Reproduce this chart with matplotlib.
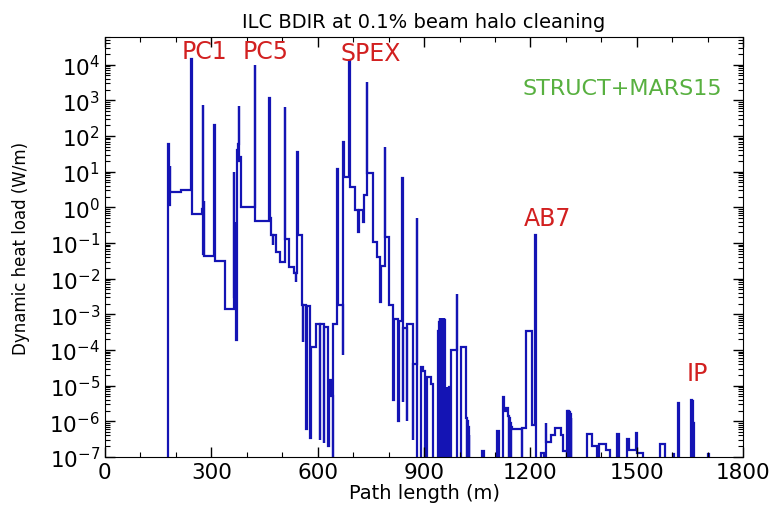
import matplotlib
matplotlib.use("Agg")
import matplotlib.pyplot as plt
from matplotlib.ticker import FixedLocator, LogLocator, MultipleLocator, NullFormatter

# Heat load per bin along the beamline: (left edge in m, load in W/m). 0 = empty bin.
bin_left = [
    0, 178, 179.5, 180.5, 181.5, 182.5, 184, 215, 244, 245.5, 246.5,
    274, 275.5, 277, 278, 279, 280, 308, 309.5, 310.5, 340,
    363, 364.5, 366.5, 369, 371, 372.5, 374, 376, 378, 379.5, 381, 382.5, 384,
    423, 424.5, 464, 465.5, 466.5, 467.5, 473, 474.5, 482, 494,
    507, 508.5, 520, 533, 538, 540, 543, 544.5,
    556, 559, 560, 568.5, 569.5, 579.5, 580.5, 594.5, 606, 607, 617.5, 618.5,
    630, 631, 636.5, 642, 644, 655, 656.5, 657.5, 671, 672, 673.5, 675,
    689, 690.5, 705, 714, 715.5, 728, 729.5, 738, 739.5, 755, 766.5,
    777, 778.5, 789, 790.5, 802, 813, 814, 827, 828, 838.5, 840, 841,
    852, 853, 869, 870, 879, 880.5, 890, 896, 902, 907, 919, 926,
    940, 941.25, 942.5, 943.75, 945, 946.25, 947.5, 948.75, 950, 951.25,
    952.5, 953.75, 955, 956.25, 957.5, 958.75,
    960, 964, 965.25, 966.5, 967.75, 969, 970.25, 971.5, 972.75, 975,
    992, 993.5, 1005, 1019, 1020.5, 1021.5, 1023, 1024, 1025.5, 1026.5, 1028,
    1063, 1069, 1105, 1111, 1123, 1125, 1131,
    1137, 1139, 1140, 1142, 1143, 1145, 1146, 1148, 1150, 1175, 1177,
    1187, 1203, 1213, 1214.5, 1231, 1239, 1243, 1244.5, 1259, 1269, 1285, 1293,
    1302, 1304, 1305.5, 1306.5, 1308, 1309, 1310.5, 1311.5, 1313, 1314, 1315.5,
    1359, 1373, 1387, 1394, 1413, 1423, 1443, 1451, 1472, 1479, 1498, 1499.5,
    1518, 1564, 1578, 1602, 1603.5, 1616, 1618,
    1653, 1654.5, 1655.5, 1657, 1658, 1660, 1701, 1702.5,
]
bin_right_end = 1800

heat_load = [
    0, 60, 1.5, 9, 1.2, 14, 2.7, 3.1, 1.4e4, 40, 0.65,
    0.9, 740, 2, 0.05, 1.5, 0.044, 200, 6.5, 0.032, 0.0014,
    10, 0.003, 0.05, 0.4, 1.9e-4, 0.02, 40, 60, 680, 20, 25, 2, 1.0,
    1.0e4, 0.41, 1150, 2, 0.5, 0.17, 0.09, 0.17, 0.056, 0.03,
    660, 0.13, 0.021, 0.014, 0.008, 0.014, 36, 0.17,
    1.8e-3, 1.7e-4, 1.8e-3, 6e-7, 1.7e-3, 3.5e-7, 1.2e-4, 5.5e-4, 3e-7, 5.5e-4, 2.5e-7, 4.5e-4,
    2e-7, 1.4e-5, 5e-6, 0, 5.5e-4, 12, 0.5, 1.8e-3, 7e-5, 70, 25, 7,
    1.3e4, 3.7, 0.83, 0.2, 0.83, 0.4, 2.2, 3300, 9, 0.11, 0.04,
    2.2e-3, 0.023, 50, 0.15, 1.8e-3, 4e-6, 7.6e-4, 1e-6, 6.3e-4, 6.5, 3.5e-6, 4e-4,
    1e-6, 5.2e-4, 2.9e-7, 4e-5, 0.5, 0, 3.3e-5, 2.5e-5, 0, 1.8e-5, 1.1e-5, 0,
    3.5e-4, 0, 6e-4, 0, 8e-4, 0, 8e-4, 0, 7.5e-4, 0,
    8e-4, 0, 8e-4, 0, 7e-4, 0,
    0, 9e-6, 0, 9e-6, 0, 8e-6, 0, 9e-6, 0, 9.8e-5,
    3.8e-3, 0, 1.2e-4, 1.2e-6, 0, 1e-6, 0, 7e-7, 0, 4e-7, 0,
    1.5e-7, 0, 5.4e-7, 0, 4.8e-6, 1.9e-6, 2.4e-6,
    1.4e-6, 0, 1.2e-6, 0, 9e-7, 0, 7e-7, 6e-7, 6.2e-7, 0, 6.5e-7,
    3.5e-4, 8e-7, 0.17, 0, 1.3e-7, 0, 9e-7, 2.7e-7, 4e-7, 6.3e-7, 4e-7, 1.5e-7,
    0, 1.9e-6, 0, 1.9e-6, 0, 1.8e-6, 0, 1.6e-6, 0, 1.2e-6, 0,
    4.3e-7, 2e-7, 0, 2.3e-7, 1.6e-7, 0, 4.3e-7, 0, 3.2e-7, 1.6e-7, 4.7e-7, 1.3e-7,
    0, 2.3e-7, 0, 1.2e-7, 0, 3.3e-6, 0,
    4e-6, 0, 3.8e-6, 0, 9e-7, 0, 1.2e-7, 0,
]

# element labels: name, position in m, height in W/m
element_names = ["PC1", "PC5", "SPEX", "AB7", "IP"]
element_x = [282, 454, 750, 1247, 1670]
element_y = [2.5e4, 2.5e4, 2.1e4, 0.5, 2.3e-5]

edges = bin_left + [bin_right_end]
# empty bins drop below the plotted range
values = [v if v > 0 else 1e-9 for v in heat_load]

fig = plt.figure(figsize=(7.71, 5.06), dpi=100)
ax = fig.add_axes([0.136, 0.095, 0.828, 0.83])

ax.stairs(values, edges, baseline=None, color="#1414b4", linewidth=1.6)

ax.set_yscale("log")
ax.set_xlim(0, 1800)
ax.set_ylim(1e-7, 6e4)

ax.xaxis.set_major_locator(MultipleLocator(300))
ax.xaxis.set_minor_locator(MultipleLocator(100))
ax.yaxis.set_major_locator(FixedLocator([10.0 ** k for k in range(-7, 5)]))
ax.yaxis.set_minor_locator(LogLocator(base=10, subs=range(2, 10), numticks=30))
ax.yaxis.set_minor_formatter(NullFormatter())
ax.tick_params(which="both", direction="in", top=True, right=True, labelsize=15.5)
ax.tick_params(which="major", length=7, width=1)
ax.tick_params(which="minor", length=3.5, width=0.8)

ax.set_xlabel("Path length (m)", fontsize=14, labelpad=1)
ax.set_ylabel("Dynamic heat load (W/m)", fontsize=12, labelpad=14)
ax.set_title("ILC BDIR at 0.1% beam halo cleaning", fontsize=14, pad=7)

for name, x, y in zip(element_names, element_x, element_y):
    ax.text(x, y, name, color="#d22020", fontsize=17, ha="center", va="center")
ax.text(1459, 2.2e3, "STRUCT+MARS15", color="#58b040", fontsize=16, ha="center", va="center")

fig.savefig("out.png", dpi=100)
